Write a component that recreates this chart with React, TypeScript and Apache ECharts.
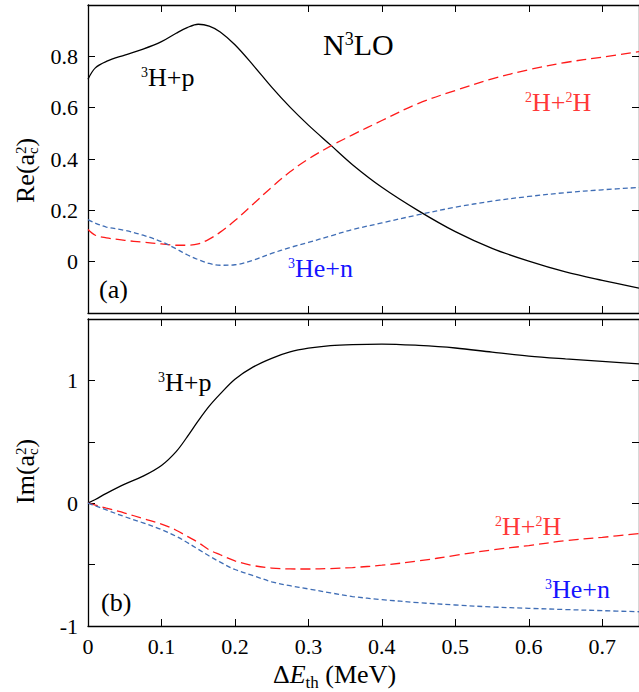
import React, { useEffect, useRef } from "react";
import * as echarts from "echarts";

// ΔE_th (MeV) sample points
const energies = [0, 0.01, 0.025, 0.05, 0.075, 0.1, 0.12, 0.135, 0.15, 0.165, 0.18, 0.2, 0.225, 0.25, 0.275, 0.3, 0.33, 0.36, 0.4, 0.45, 0.5, 0.55, 0.6, 0.65, 0.7, 0.75];

// Panel (a): Re(a_c^2)
const reTp = [0.711, 0.755, 0.78, 0.805, 0.828, 0.857, 0.89, 0.912, 0.925, 0.918, 0.895, 0.845, 0.765, 0.68, 0.602, 0.532, 0.455, 0.378, 0.29, 0.198, 0.117, 0.052, 0.002, -0.04, -0.073, -0.103];
const reDD = [0.125, 0.103, 0.093, 0.083, 0.076, 0.069, 0.064, 0.064, 0.069, 0.088, 0.115, 0.16, 0.225, 0.29, 0.35, 0.4, 0.45, 0.494, 0.55, 0.617, 0.667, 0.712, 0.748, 0.776, 0.797, 0.818];
const reHen = [0.164, 0.15, 0.135, 0.122, 0.103, 0.078, 0.05, 0.027, 0.008, -0.007, -0.014, -0.012, 0.006, 0.032, 0.055, 0.075, 0.1, 0.125, 0.151, 0.183, 0.212, 0.236, 0.254, 0.269, 0.28, 0.289];

// Panel (b): Im(a_c^2)
const imTp = [0, 0.03, 0.08, 0.155, 0.22, 0.307, 0.42, 0.54, 0.67, 0.79, 0.89, 1.01, 1.11, 1.18, 1.232, 1.262, 1.283, 1.292, 1.296, 1.285, 1.264, 1.23, 1.198, 1.175, 1.155, 1.134];
const imDD = [0, -0.015, -0.04, -0.08, -0.125, -0.17, -0.22, -0.27, -0.32, -0.38, -0.42, -0.47, -0.508, -0.528, -0.535, -0.536, -0.532, -0.524, -0.505, -0.47, -0.425, -0.38, -0.345, -0.305, -0.278, -0.247];
const imHen = [0, -0.022, -0.055, -0.11, -0.16, -0.215, -0.27, -0.32, -0.375, -0.43, -0.48, -0.54, -0.59, -0.64, -0.672, -0.698, -0.73, -0.76, -0.785, -0.81, -0.829, -0.845, -0.856, -0.866, -0.875, -0.884];

const xTickLabels = ["0", "0.1", "0.2", "0.3", "0.4", "0.5", "0.6", "0.7"];

const FAMILY = "'Liberation Serif', 'Times New Roman', 'DejaVu Serif', serif";
const BLUE_LINE = "#3f6db5";
const RED_LINE = "#ff1a1a";

type Part = { t: string; s: number; dy?: number; it?: boolean; stack?: boolean };

let measureCtx: CanvasRenderingContext2D | null = null;
function measure(text: string, font: string): number {
  if (!measureCtx) measureCtx = document.createElement("canvas").getContext("2d");
  if (!measureCtx) return text.length * 10;
  measureCtx.font = font;
  return measureCtx.measureText(text).width;
}

function makeLabel(x: number, y: number, parts: Part[], color: string, rotation = 0): any {
  let cx = 0;
  let pending = 0;
  const children: any[] = [];
  for (const p of parts) {
    const font = `${p.it ? "italic " : ""}${p.s}px ${FAMILY}`;
    const w = measure(p.t, font);
    children.push({
      type: "text",
      x: cx,
      y: (p.dy || 0) - 0.3375 * p.s,
      silent: true,
      style: {
        text: p.t,
        fontFamily: FAMILY,
        fontSize: p.s,
        fontStyle: p.it ? "italic" : "normal",
        fill: color,
        textAlign: "left",
        textVerticalAlign: "middle",
      },
    });
    if (p.stack) {
      pending = Math.max(pending, w);
    } else {
      cx += Math.max(w, pending);
      pending = 0;
    }
  }
  return { type: "group", x, y, rotation, children };
}

export default function App() {
  const ref = useRef<HTMLDivElement>(null);
  useEffect(() => {
    if (!ref.current) return;
    const chart = echarts.init(ref.current, null, { renderer: "svg" });

    const axisLine = { show: true, onZero: false, lineStyle: { color: "#000", width: 1.3 } };
    const tick = { show: true, inside: true, length: 7, lineStyle: { color: "#000", width: 1 } };
    const labelStyle = { fontFamily: FAMILY, fontSize: 22, color: "#000" };

    const xBase = { type: "value", min: 0, max: 0.75, interval: 0.1, splitLine: { show: false }, axisLine, axisTick: tick };

    const xAxes = [
      { ...xBase, gridIndex: 0, position: "bottom", axisLabel: { show: false } },
      {
        ...xBase,
        gridIndex: 1,
        position: "bottom",
        axisLabel: {
          ...labelStyle,
          margin: 9,
          showMaxLabel: false,
          formatter: (v: number) => {
            const i = Math.round(v * 10);
            return Math.abs(v * 10 - i) < 1e-6 && i >= 0 && i < xTickLabels.length ? xTickLabels[i] : "";
          },
        },
      },
      { ...xBase, gridIndex: 0, position: "top", axisLabel: { show: false } },
      { ...xBase, gridIndex: 1, position: "top", axisLabel: { show: false } },
    ];

    const reFmt = (v: number) => {
      if (v < -0.1 || v > 0.9) return "";
      if (Math.abs(v) < 1e-6) return "0";
      return v.toFixed(1);
    };
    const imFmt = (v: number) => {
      const r = Math.round(v);
      if (Math.abs(v - r) > 1e-6 || v > 1.2) return "";
      return String(r);
    };

    const yTop = { type: "value", min: -0.2, max: 1.0, interval: 0.2, splitLine: { show: false }, axisLine, axisTick: tick };
    const yBot = { type: "value", min: -1, max: 1.5, interval: 0.5, splitLine: { show: false }, axisLine, axisTick: tick };

    const yAxes = [
      { ...yTop, gridIndex: 0, position: "left", axisLabel: { ...labelStyle, margin: 10, formatter: reFmt } },
      { ...yBot, gridIndex: 1, position: "left", axisLabel: { ...labelStyle, margin: 10, formatter: imFmt } },
      { ...yTop, gridIndex: 0, position: "right", axisLabel: { show: false } },
      { ...yBot, gridIndex: 1, position: "right", axisLabel: { show: false } },
    ];

    const pairs = (ys: number[]) => energies.map((e, i) => [e, ys[i]]);
    const mk = (ys: number[], color: string, dash: any, gi: number) => ({
      type: "line",
      xAxisIndex: gi,
      yAxisIndex: gi,
      data: pairs(ys),
      smooth: 0.35,
      showSymbol: false,
      symbol: "none",
      lineStyle: { color, width: 1.3, type: dash },
      silent: true,
    });

    const series = [
      mk(reTp, "#000", "solid", 0),
      mk(reDD, RED_LINE, [10, 5], 0),
      mk(reHen, BLUE_LINE, [5, 3], 0),
      mk(imTp, "#000", "solid", 1),
      mk(imDD, RED_LINE, [10, 5], 1),
      mk(imHen, BLUE_LINE, [5, 3], 1),
    ];

    const labRed = "#ff3838";
    const labBlue = "#1414ff";
    const graphic = [
      makeLabel(323, 55, [{ t: "N", s: 30 }, { t: "3", s: 18, dy: -10 }, { t: "LO", s: 30 }], "#000"),
      makeLabel(141, 86, [{ t: "3", s: 14, dy: -8.5 }, { t: "H+p", s: 26 }], "#000"),
      makeLabel(525, 111, [{ t: "2", s: 14, dy: -8.5 }, { t: "H+", s: 26 }, { t: "2", s: 14, dy: -8.5 }, { t: "H", s: 26 }], labRed),
      makeLabel(288, 277, [{ t: "3", s: 14, dy: -8.5 }, { t: "He+n", s: 26 }], labBlue),
      makeLabel(99, 298, [{ t: "(a)", s: 26 }], "#000"),
      makeLabel(158, 391, [{ t: "3", s: 14, dy: -8.5 }, { t: "H+p", s: 26 }], "#000"),
      makeLabel(495, 535, [{ t: "2", s: 14, dy: -8.5 }, { t: "H+", s: 26 }, { t: "2", s: 14, dy: -8.5 }, { t: "H", s: 26 }], labRed),
      makeLabel(545, 598, [{ t: "3", s: 14, dy: -8.5 }, { t: "He+n", s: 26 }], labBlue),
      makeLabel(101, 611, [{ t: "(b)", s: 26 }], "#000"),
      // axis titles
      makeLabel(
        34,
        203,
        [{ t: "Re(a", s: 26 }, { t: "2", s: 15, dy: -7.5, stack: true }, { t: "c", s: 15, dy: 4.5 }, { t: ")", s: 26 }],
        "#000",
        Math.PI / 2
      ),
      makeLabel(
        34,
        504,
        [{ t: "Im(a", s: 26 }, { t: "2", s: 15, dy: -7.5, stack: true }, { t: "c", s: 15, dy: 4.5 }, { t: ")", s: 26 }],
        "#000",
        Math.PI / 2
      ),
      makeLabel(273, 683, [{ t: "Δ", s: 26 }, { t: "E", s: 26, it: true }, { t: "th", s: 17, dy: 5 }, { t: " (MeV)", s: 26 }], "#000"),
    ];

    chart.setOption({
      animation: false,
      backgroundColor: "#fff",
      grid: [
        { left: 88, top: 5, right: -4, height: 308, containLabel: false },
        { left: 88, top: 319, right: -4, height: 307, containLabel: false },
      ],
      xAxis: xAxes,
      yAxis: yAxes,
      series,
      graphic,
    });
    return () => chart.dispose();
  }, []);
  return <div ref={ref} style={{ position: "absolute", left: 0, top: 0, width: 639, height: 692 }} />;
}
